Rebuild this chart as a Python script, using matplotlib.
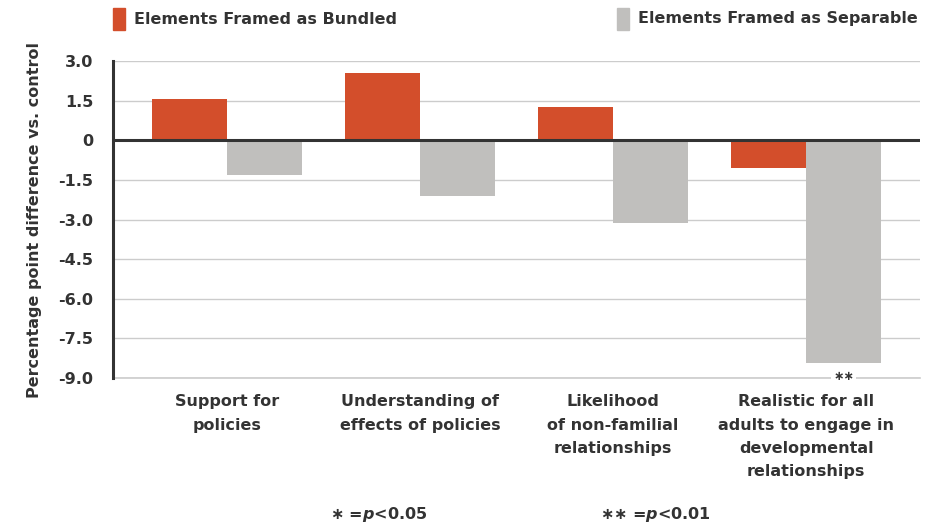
import matplotlib
matplotlib.use('agg')
import matplotlib.pyplot as plt
import numpy as np

plt.rcParams.update({
    "font.family": "DejaVu Sans",
    "font.weight": "bold",
    "axes.labelweight": "bold",
    "mathtext.fontset": "custom",
    "mathtext.it": "DejaVu Sans:italic:bold",
    "mathtext.rm": "DejaVu Sans:bold",
})

categories = ["Support for\npolicies",
              "Understanding of\neffects of policies",
              "Likelihood\nof non-familial\nrelationships",
              "Realistic for all\nadults to engage in\ndevelopmental\nrelationships"]
bundled = [1.55, 2.55, 1.25, -1.05]
separable = [-1.33, -2.12, -3.14, -8.42]
sig_separable = ["", "", "", "**"]
yticks = [3.0, 1.5, 0, -1.5, -3.0, -4.5, -6.0, -7.5, -9.0]
ytick_labels = ["3.0", "1.5", "0", "-1.5", "-3.0", "-4.5", "-6.0", "-7.5", "-9.0"]

red = "#d34e2b"
gray = "#c0bfbd"
dark = "#333333"

fig = plt.figure(figsize=(9.33, 5.25), dpi=100)
ax = fig.add_axes([113/933, 1-378/525, (920-113)/933, (378-61)/525])

x = np.arange(len(categories))
w = 0.39
ax.bar(x - w/2, bundled, w, color=red, zorder=3)
ax.bar(x + w/2, separable, w, color=gray, zorder=3)

ax.set_xlim(-0.59, 3.59)
ax.set_ylim(-9.0, 3.0)
ax.set_yticks(yticks)
ax.set_yticklabels(ytick_labels, fontsize=11.5, color=dark)
ax.tick_params(axis="y", length=0, pad=14)
ax.set_xticks([])
ax.grid(axis="y", color="#cccccc", linewidth=1, zorder=0)
ax.axhline(-9.0, color="#cccccc", linewidth=1.2, zorder=1, clip_on=False)
ax.axhline(0, color=dark, linewidth=2.2, zorder=4)
for sp in ["top", "right", "bottom"]:
    ax.spines[sp].set_visible(False)
ax.spines["left"].set_color(dark)
ax.spines["left"].set_linewidth(2.2)
ax.spines["left"].set_zorder(5)
ax.set_ylabel("Percentage point difference vs. control", fontsize=11.5,
              color=dark, labelpad=12)

for xi, v, s in zip(x, separable, sig_separable):
    if s:
        ax.text(xi + w/2, -8.95, s.replace("*", "\u2217"), ha="center",
                va="center", fontsize=9, color=dark, zorder=6, clip_on=False,
                bbox=dict(facecolor="white", edgecolor="none", pad=1.5))

for xi, c in zip(x, categories):
    ax.text(xi, -9.62, c, ha="center", va="top", fontsize=11.5, color=dark,
            linespacing=1.68)

# legend
fig.patches.append(plt.Rectangle((113/933, 1-30/525), 12/933, 22/525,
                                 transform=fig.transFigure, color=red))
fig.text(134/933, 1-19/525, "Elements Framed as Bundled", fontsize=11.5,
         color=dark, va="center")
fig.patches.append(plt.Rectangle((617/933, 1-30/525), 12/933, 22/525,
                                 transform=fig.transFigure, color=gray))
fig.text(638/933, 1-19/525, "Elements Framed as Separable", fontsize=11.5,
         color=dark, va="center")

# footnotes
fig.text(330/933, 1-514/525, "\u2217 =$p$<0.05", fontsize=11.5, color=dark, va="center")
fig.text(600/933, 1-514/525, "\u2217\u2217 =$p$<0.01", fontsize=11.5, color=dark, va="center")

plt.savefig("out.png", dpi=100)
